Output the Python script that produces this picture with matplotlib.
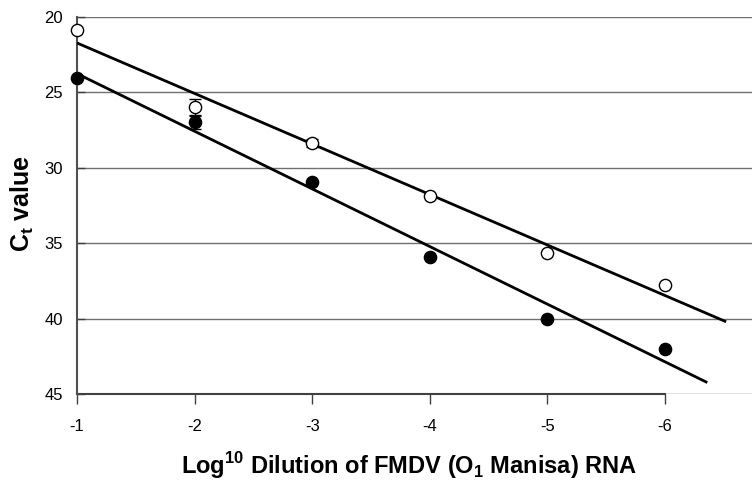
import matplotlib
matplotlib.use("agg")
import matplotlib.pyplot as plt
import numpy as np

plt.rcParams["font.family"] = ["Liberation Sans", "DejaVu Sans"]

# dilution steps (plotted as positive x, labelled negative)
dilution = [1, 2, 3, 4, 5, 6]
tick_labels = ["-1", "-2", "-3", "-4", "-5", "-6"]

# open circles
ct_open = [20.85, 26.0, 28.37, 31.9, 35.65, 37.8]
err_open = [0, 0.55, 0.25, 0, 0, 0]
# filled circles
ct_filled = [24.05, 26.98, 30.93, 35.9, 40.0, 42.0]
err_filled = [0, 0.45, 0, 0, 0, 0]

# how far each trend line runs
end_open = 6.52
end_filled = 6.36

fig = plt.figure(figsize=(7.52, 4.83), dpi=100)
ax = fig.add_axes([0.1024, 0.1843, 0.8976, 0.7805])

x = np.array(dilution)

# trend lines (least squares)
for ys, x_end in [(ct_open, end_open), (ct_filled, end_filled)]:
    m, b = np.polyfit(x, ys, 1)
    xx = np.array([1, x_end])
    ax.plot(xx, m * xx + b, color="black", lw=2, zorder=3, solid_capstyle="butt")

ax.errorbar(x, ct_open, yerr=err_open, fmt="none", ecolor="black",
            elinewidth=1, capsize=4, capthick=1, zorder=4)
ax.errorbar(x, ct_filled, yerr=err_filled, fmt="none", ecolor="black",
            elinewidth=1, capsize=4, capthick=1, zorder=4)

ax.plot(x, ct_open, "o", ms=8.8, mfc="white", mec="black", mew=1, zorder=5,
        clip_on=False)
ax.plot(x, ct_filled, "o", ms=8.8, mfc="black", mec="black", mew=1, zorder=5,
        clip_on=False)

ax.set_xlim(1, 6.74)
ax.set_ylim(45, 20)

ax.set_yticks([20, 25, 30, 35, 40, 45])
ax.set_xticks(dilution)
ax.set_xticklabels(tick_labels)

# horizontal gridlines
for yv in [20, 25, 30, 35, 40, 45]:
    ax.axhline(yv, color="#707070", lw=1, zorder=1)
# bottom axis line only up to -6
ax.plot([1, 6], [45, 45], color="#404040", lw=1.5, zorder=2, clip_on=False)

for s in ["top", "right", "bottom"]:
    ax.spines[s].set_visible(False)
ax.spines["left"].set_color("#505050")
ax.spines["left"].set_linewidth(1.5)

ax.tick_params(axis="y", direction="in", length=6, width=1, color="#404040",
               labelsize=12, pad=10)
ax.tick_params(axis="x", direction="out", length=7, width=1, color="#404040",
               labelsize=12, pad=11)

fig.text(22 / 752, 1 - 204 / 483, "C$_\\mathregular{t}$ value", fontsize=18,
         fontweight="bold", rotation=90, ha="center", va="center")
fig.text(409 / 752, 9 / 483,
         "Log$^\\mathregular{10}$ Dilution of FMDV (O$_\\mathregular{1}$ Manisa) RNA",
         fontsize=17, fontweight="bold", ha="center", va="baseline")

fig.savefig("out.png", dpi=100)
